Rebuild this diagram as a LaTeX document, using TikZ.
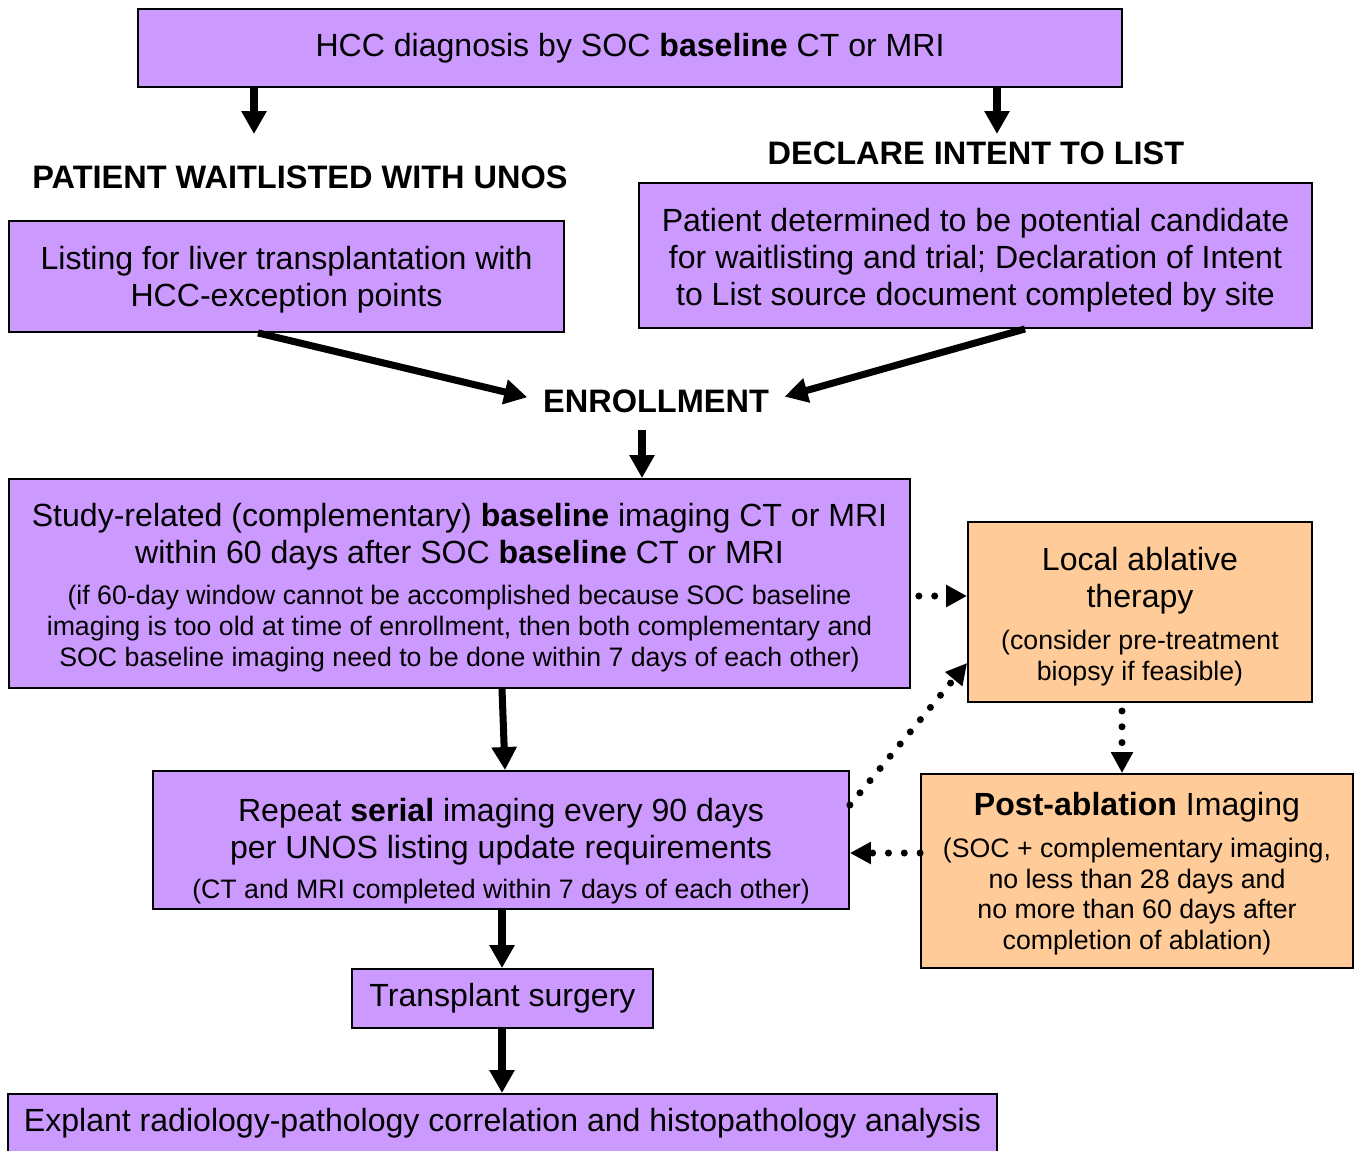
\documentclass[tikz,border=0pt]{standalone}
\usepackage{fontspec}
\setmainfont{Liberation Sans}
\usetikzlibrary{arrows.meta}
\definecolor{lilac}{HTML}{CC99FF}
\definecolor{peach}{HTML}{FFCC99}
\newcommand{\bigf}{\fontsize{18.25}{21}\selectfont}
\newcommand{\headf}{\fontsize{18.5}{21}\selectfont}
\newcommand{\smf}{\fontsize{15.2}{17.6}\selectfont}
\tikzset{
  pbox/.style={draw=black, line width=1.1pt, fill=lilac, align=center, font=\bigf, inner sep=0pt},
  obox/.style={draw=black, line width=1.1pt, fill=peach, align=center, font=\bigf, inner sep=0pt},
  head/.style={font=\headf\bfseries, inner sep=0pt},
  bigarrow/.style={line width=4pt, -{Triangle[length=0.46cm,width=0.48cm]}},
  dotarrow/.style={line width=4pt, line cap=round, dash pattern=on 0pt off 9pt, -{Triangle[length=0.42cm,width=0.42cm]}},
}
\begin{document}
\begin{tikzpicture}[x=0.02cm, y=-0.02cm]
\useasboundingbox (0,0) rectangle (1359,1150);
\node[pbox, minimum width=19.68cm, minimum height=1.56cm] (top) at (630,48)
  {HCC diagnosis by SOC \textbf{baseline} CT or MRI};
\node[head] (wl) at (300,177) {PATIENT WAITLISTED WITH UNOS};
\node[head] (di) at (976,153) {DECLARE INTENT TO LIST};
\node[pbox, minimum width=11.1cm, minimum height=2.22cm] (list) at (286.5,276.5)
  {\rule{0pt}{0.60cm}Listing for liver transplantation with\\HCC-exception points};
\node[pbox, minimum width=13.46cm, minimum height=2.9cm] (pat) at (975.5,255.5)
  {\rule{0pt}{0.66cm}Patient determined to be potential candidate\\for waitlisting and trial; Declaration of Intent\\to List source document completed by site};
\node[head] (enr) at (656,401) {ENROLLMENT};
\node[pbox, minimum width=18.02cm, minimum height=4.18cm] (study) at (459.5,583.5)
  {\rule{0pt}{0.63cm}Study-related (complementary) \textbf{baseline} imaging CT or MRI\\
   within 60 days after SOC \textbf{baseline} CT or MRI\\[2.6pt]
   \smf (if 60-day window cannot be accomplished because SOC baseline\\[-3.4pt]
   \smf imaging is too old at time of enrollment, then both complementary and\\[-3.4pt]
   \smf SOC baseline imaging need to be done within 7 days of each other)};
\node[obox, minimum width=6.88cm, minimum height=3.6cm] (abl) at (1140,612)
  {\rule{0pt}{0.65cm}Local ablative\\therapy\\[2.6pt]
   \smf (consider pre-treatment\\[-3.4pt]
   \smf biopsy if feasible)};
\node[pbox, minimum width=13.92cm, minimum height=2.76cm] (rep) at (501,840)
  {\rule{0pt}{0.92cm}Repeat \textbf{serial} imaging every 90 days\\
   per UNOS listing update requirements\\[1.6pt]
   \smf (CT and MRI completed within 7 days of each other)};
\node[obox, minimum width=8.64cm, minimum height=3.88cm] (post) at (1137,871)
  {\rule{0pt}{0.58cm}\textbf{Post-ablation} Imaging\\[2.6pt]
   \smf (SOC + complementary imaging,\\[-3.4pt]
   \smf no less than 28 days and\\[-3.4pt]
   \smf no more than 60 days after\\[-3.4pt]
   \smf completion of ablation)};
\node[pbox, minimum width=6.02cm, minimum height=1.18cm] (tx) at (502.5,998.5)
  {Transplant surgery};
\node[pbox, minimum width=19.78cm, minimum height=1.18cm, anchor=north] (exp) at (502.5,1093)
  {\raisebox{0.12cm}{Explant radiology-pathology correlation and histopathology analysis}};
% solid arrows
\draw[bigarrow] (top.south -| 254,0) -- (254,134);
\draw[bigarrow] (top.south -| 997,0) -- (997,134);
\draw[bigarrow, shorten >=0.32cm] (list.south -| 258,0) -- (enr.west);
\draw[bigarrow, shorten >=0.32cm] (pat.south -| 1025,0) -- (enr.east);
\draw[bigarrow] (642,430) -- (study.north -| 642,0);
\draw[bigarrow] (study.south -| 502,0) -- (rep.north -| 505,0);
\draw[bigarrow] (rep.south -| 502,0) -- (tx.north -| 502,0);
\draw[bigarrow] (tx.south -| 502,0) -- (exp.north -| 502,0);
% dotted arrows
\draw[dotarrow] (study.east |- 0,596) ++(8,0) -- (abl.west |- 0,596);
\draw[dotarrow] (rep.east |- 0,805) -- (abl.west |- 0,663);
\draw[dotarrow] (abl.south -| 1122,0) ++(0,8) -- (post.north -| 1122,0);
\draw[dotarrow] (post.west |- 0,853) -- (rep.east |- 0,853);
\end{tikzpicture}
\end{document}
